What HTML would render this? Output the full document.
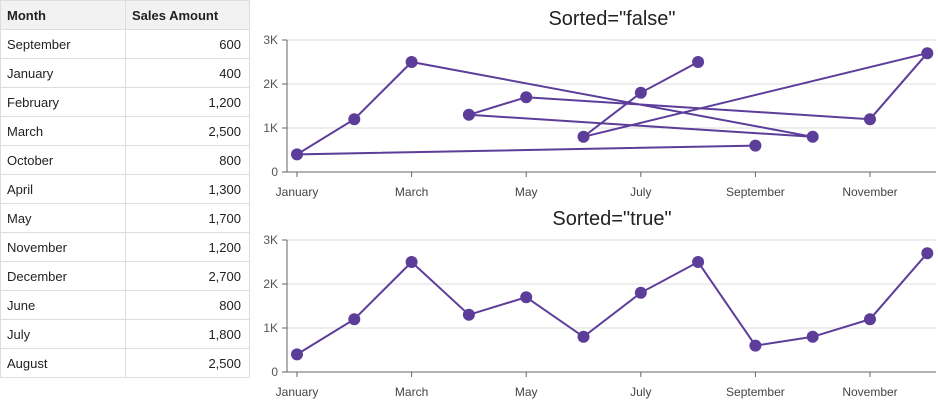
<!DOCTYPE html>
<html><head><meta charset="utf-8"><style>
body{margin:0;width:938px;height:400px;background:#fff;font-family:"Liberation Sans",sans-serif;overflow:hidden;position:relative}
table{position:absolute;left:0;top:0;width:250px;border-collapse:collapse;font-size:13px;color:#222}
td,th{border:1px solid #ddd;height:29px;padding:0 6px;box-sizing:border-box}
th{background:#f2f2f2;text-align:left;font-weight:bold}
td:nth-child(2){text-align:right;padding-right:8px}
td:first-child,th:first-child{width:125px}
svg{position:absolute;left:0;top:0}
</style></head><body>
<table>
<thead><tr><th>Month</th><th>Sales Amount</th></tr></thead>
<tbody id="tb"></tbody></table>
<svg id="s" width="938" height="400"></svg>
<script>
const months=["September","January","February","March","October","April","May","November","December","June","July","August"];
const sales=[600,400,1200,2500,800,1300,1700,1200,2700,800,1800,2500];
const order=["January","February","March","April","May","June","July","August","September","October","November","December"];
const yTicks=[0,1000,2000,3000];
const yTickLabels=["0","1K","2K","3K"];
const xTickLabels=["January","March","May","July","September","November"];
const tb=document.getElementById('tb');
months.forEach((m,i)=>{const tr=document.createElement('tr');


tr.innerHTML='<td>'+m+'</td><td>'+sales[i].toLocaleString('en-US')+'</td>';tb.appendChild(tr);});
const s=document.getElementById('s');const NS='http://www.w3.org/2000/svg';
function el(t,a,txt){const e=document.createElementNS(NS,t);for(const k in a)e.setAttribute(k,a[k]);if(txt!=null)e.textContent=txt;s.appendChild(e);return e;}
function chart(top,title,sorted){
 const x=m=>297+order.indexOf(m)*57.3;
 const y=v=>top+172-v/3000*132;
 const t=el('text',{x:612,y:top+25,'text-anchor':'middle','font-size':20,fill:'#222'},title);
 
 
 yTicks.forEach((v,i)=>{
  if(v>0){const g=el('line',{x1:287,x2:936,y1:y(v),y2:y(v),stroke:'#ddd'});
  
  }
  el('line',{x1:282,x2:287,y1:y(v),y2:y(v),stroke:'#666'});
  const l=el('text',{x:278,y:y(v)+4,'text-anchor':'end','font-size':12,fill:'#555'},yTickLabels[i]);
  
  
 });
 el('line',{x1:287,x2:287,y1:y(3000),y2:y(0),stroke:'#666'});
 el('line',{x1:287,x2:936,y1:y(0),y2:y(0),stroke:'#666'});
 xTickLabels.forEach(m=>{
  el('line',{x1:x(m),x2:x(m),y1:y(0),y2:y(0)+5,stroke:'#666'});
  const l=el('text',{x:x(m),y:y(0)+24,'text-anchor':'middle','font-size':12,fill:'#444'},m);
  
  
 });
 let pts=months.map((m,i)=>[m,sales[i]]);
 if(sorted)pts.sort((a,b)=>order.indexOf(a[0])-order.indexOf(b[0]));
 const p=el('polyline',{points:pts.map(q=>x(q[0])+','+y(q[1])).join(' '),fill:'none',stroke:'#5c3d99','stroke-width':2});
 
 
 pts.forEach(q=>{const c=el('circle',{cx:x(q[0]),cy:y(q[1]),r:6,fill:'#5c3d99'});
 
 });
}
chart(0,'Sorted="false"',false);
chart(200,'Sorted="true"',true);
</script></body></html>
